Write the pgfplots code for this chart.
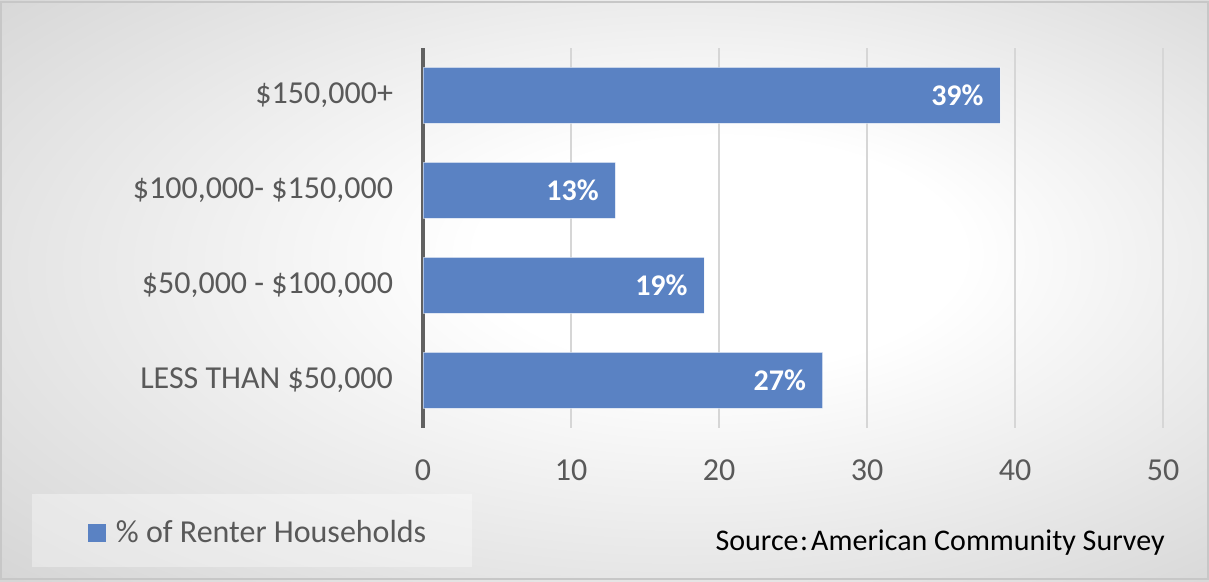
\documentclass[border=0pt]{standalone}
\usepackage{pgfplots}
\pgfplotsset{compat=1.18}
\usepackage{fontspec}
\setmainfont{Carlito}
\definecolor{barblue}{HTML}{5A82C3}
\definecolor{ticktext}{HTML}{595959}
\pgfdeclareradialshading{bgshade}{\pgfpoint{6bp}{4bp}}{color(0bp)=(white); color(10bp)=(white); color(50bp)=(black!24)}
\begin{document}
\begin{tikzpicture}[x=1pt,y=1pt]
\useasboundingbox (0,0) rectangle (604.5,291);
\shade[shading=bgshade] (0,0) rectangle (604.5,291);
\draw[black!22, line width=1pt] (0.5,1.5) rectangle (604,290);
\fill[white, opacity=0.35] (16,7.5) rectangle (236,44);
\begin{axis}[
  at={(211.5pt,77pt)}, anchor=south west,
  scale only axis, width=370pt, height=190pt,
  xmin=0, xmax=50, ymin=-0.5, ymax=3.5,
  xbar, bar width=28pt,
  ytick={0,1,2,3},
  yticklabels={{LESS THAN \$50,000}, {\$50,000 - \$100,000}, {\$100,000- \$150,000}, {\$150,000+}},
  xtick={0,10,20,30,40,50},
  xticklabels={0,10,20,30,40,50},
  major tick length=0pt,
  axis lines=left,
  x axis line style={draw=none},
  y axis line style={draw=black!62, line width=1.6pt, -},
  xmajorgrids,
  major grid style={black!16, line width=0.7pt},
  tick label style={font=\fontsize{16}{19}\selectfont, text=ticktext},
  yticklabel style={xshift=-11.5pt},
  xticklabel style={yshift=-12.5pt},
  nodes near coords={\pgfmathprintnumber[assume math mode=true]{\pgfplotspointmeta}\%},
  nodes near coords style={anchor=east, xshift=-4.7pt, text=white, font=\fontsize{15}{18}\selectfont\bfseries},
  legend style={at={(-0.453,-0.2764)}, anchor=west, draw=none, fill=none,
    font=\fontsize{16}{19}\selectfont, text=ticktext, inner sep=0pt, outer sep=0pt},
  legend image code/.code={\fill[barblue] (0pt,-4.3pt) rectangle (8.6pt,4.3pt); \path (0pt,0pt) (11.5pt,0pt);},
]
\addplot[fill=barblue, draw=white, draw opacity=0.5, line width=0.6pt] coordinates {(27,0) (19,1) (13,2) (39,3)};
\addlegendentry{\% of Renter Households}
\end{axis}
\node[anchor=east, font=\fontsize{15}{18}\selectfont, text=black, inner sep=0pt] at (582.5,19.5) {Source\kern0.8pt:\kern1.5pt American Community Survey};
\end{tikzpicture}
\end{document}
